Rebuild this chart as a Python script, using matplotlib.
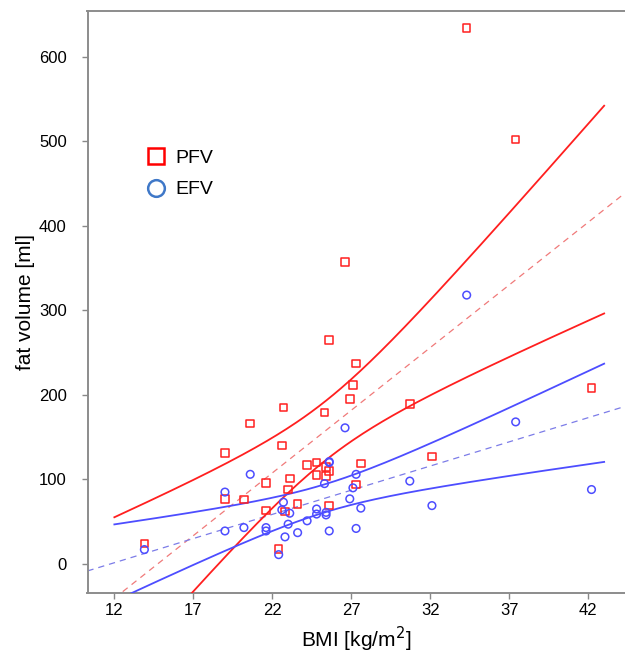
import matplotlib
matplotlib.use("Agg")
import matplotlib.pyplot as plt
from matplotlib.lines import Line2D
import numpy as np

plt.rcParams['font.family'] = ['Liberation Sans', 'DejaVu Sans']

# BMI of each patient, pericardial (PFV) and epicardial (EFV) fat volume in ml
bmi = [13.9, 19.0, 19.0, 20.2, 20.6, 21.6, 21.6, 22.4, 22.6, 22.7, 22.8,
       23.0, 23.1, 23.6, 24.2, 24.8, 24.8, 25.3, 25.4, 25.4, 25.6, 25.6,
       25.6, 26.6, 26.9, 27.1, 27.3, 27.3, 27.6, 30.7, 32.1, 34.3, 37.4, 42.2]
pfv = [24, 131, 77, 76, 166, 96, 63, 18, 140, 185, 62,
       88, 101, 71, 117, 120, 105, 179, 104, 115, 110, 69,
       265, 357, 195, 212, 237, 94, 119, 189, 127, 634, 502, 208]
efv = [17, 85, 39, 43, 106, 43, 39, 11, 64, 73, 32,
       47, 60, 37, 51, 65, 59, 95, 58, 61, 121, 39,
       120, 161, 77, 90, 106, 42, 66, 98, 69, 318, 168, 88]

ci_range = (12, 43)
t_95 = 2.037  # two-sided 95 %, 32 degrees of freedom


def fit_with_ci(x, y, xs):
    x = np.asarray(x, float)
    y = np.asarray(y, float)
    n = len(x)
    slope, icpt = np.polyfit(x, y, 1)
    resid = y - (icpt + slope * x)
    s = np.sqrt(np.sum(resid**2) / (n - 2))
    sxx = np.sum((x - x.mean())**2)
    fit = icpt + slope * xs
    hw = t_95 * s * np.sqrt(1 / n + (xs - x.mean())**2 / sxx)
    return slope, icpt, fit - hw, fit + hw


fig = plt.figure(figsize=(6.25, 6.62), dpi=100)
ax = fig.add_axes([0.14, 0.1038, 0.86, 0.8796])

xlim = (10.3, 44.32)
xs_line = np.linspace(*xlim, 50)
xs_ci = np.linspace(*ci_range, 200)

series = [(pfv, '#ff1f1f', '#f07a7a', 's'), (efv, '#4d4dff', '#7c7ce8', 'o')]
for vals, col, dcol, mk in series:
    slope, icpt, lo, hi = fit_with_ci(bmi, vals, xs_ci)
    ax.plot(xs_line, icpt + slope * xs_line, color=dcol, lw=0.9,
            dashes=(5, 4), zorder=2)
    ax.plot(xs_ci, lo, color=col, lw=1.3, zorder=3)
    ax.plot(xs_ci, hi, color=col, lw=1.3, zorder=3)
    ax.scatter(bmi, vals, s=30, marker=mk, facecolors='none',
               edgecolors=col, linewidths=1.1, zorder=4)

ax.set_xlim(*xlim)
ax.set_ylim(-34.7, 654)
ax.set_xticks([12, 17, 22, 27, 32, 37, 42])
ax.set_yticks([0, 100, 200, 300, 400, 500, 600])
ax.tick_params(direction='out', length=4, width=1, color='#888888',
               labelsize=12)
ax.tick_params(axis='x', pad=3)
ax.tick_params(axis='y', pad=11)
for side in ['left', 'bottom', 'top']:
    ax.spines[side].set_color('#8c8c8c')
    ax.spines[side].set_linewidth(1.4)
ax.spines['right'].set_visible(False)

ax.set_xlabel('BMI [kg/m$^2$]', fontsize=15, labelpad=5)
ax.set_ylabel('fat volume [ml]', fontsize=15, labelpad=3)

handles = [
    Line2D([], [], ls='none', marker='s', ms=12, mfc='none', mec='#ff0000', mew=1.8),
    Line2D([], [], ls='none', marker='o', ms=12, mfc='none', mec='#3f78c8', mew=1.8),
]
ax.legend(handles, ['PFV', 'EFV'], loc='upper left', bbox_to_anchor=(0.073, 0.792),
          frameon=False, fontsize=14, handletextpad=0.4, labelspacing=0.7,
          handlelength=1.2)

fig.savefig('out.png', dpi=100)
